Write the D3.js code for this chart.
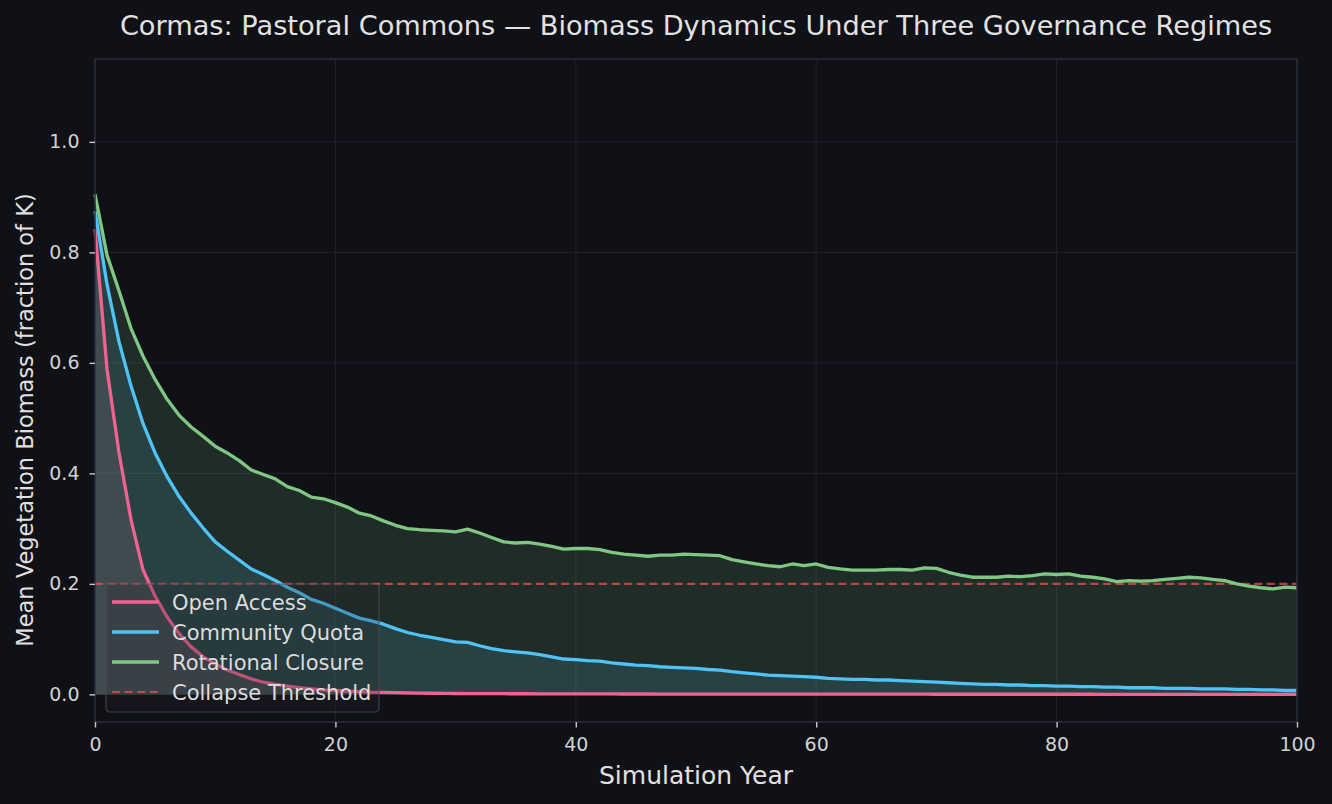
<!DOCTYPE html>
<html>
<head>
<meta charset="utf-8">
<script src="https://cdn.jsdelivr.net/npm/d3@7.9.0/dist/d3.min.js"></script>
<style>
  html, body { margin: 0; padding: 0; background: #101117; }
  svg { display: block; font-family: "DejaVu Sans", sans-serif; }
</style>
</head>
<body>
<svg id="chart" width="1332" height="804"></svg>
<script>
// years 0..100
const years = d3.range(0, 101);

const openAccess = [
  0.842, 0.588, 0.437, 0.316, 0.225, 0.178, 0.140, 0.110, 0.086, 0.068,
  0.055, 0.044, 0.036, 0.028, 0.022, 0.018, 0.015, 0.012, 0.010, 0.008,
  0.007, 0.006, 0.005, 0.004, 0.0035, 0.003, 0.0027, 0.0024, 0.002, 0.0018,
  0.0016, 0.0015, 0.0014, 0.0013, 0.0012, 0.0011, 0.0011, 0.001, 0.001, 0.0009,
  0.0009, 0.0008, 0.0008, 0.0008, 0.0007, 0.0007, 0.0007, 0.0006, 0.0006, 0.0006,
  0.0006, 0.0005, 0.0005, 0.0005, 0.0005, 0.0005, 0.0004, 0.0004, 0.0004, 0.0004,
  0.0004, 0.0004, 0.0003, 0.0003, 0.0003, 0.0003, 0.0003, 0.0003, 0.0003, 0.0003,
  0.0002, 0.0002, 0.0002, 0.0002, 0.0002, 0.0002, 0.0002, 0.0002, 0.0002, 0.0002,
  0.0002, 0.0002, 0.0002, 0.0002, 0.0001, 0.0001, 0.0001, 0.0001, 0.0001, 0.0001,
  0.0001, 0.0001, 0.0001, 0.0001, 0.0001, 0.0001, 0.0001, 0.0001, 0.0001, 0.0001,
  0.0001
];

const communityQuota = [
  0.875, 0.742, 0.638, 0.558, 0.490, 0.437, 0.394, 0.358, 0.328, 0.301,
  0.276, 0.259, 0.243, 0.227, 0.217, 0.206, 0.194, 0.184, 0.172, 0.165,
  0.156, 0.147, 0.138, 0.133, 0.127, 0.119, 0.112, 0.107, 0.103, 0.099,
  0.095, 0.094, 0.088, 0.083, 0.079, 0.077, 0.075, 0.072, 0.068, 0.064,
  0.063, 0.061, 0.060, 0.057, 0.055, 0.053, 0.052, 0.050, 0.049, 0.048,
  0.047, 0.045, 0.044, 0.041, 0.039, 0.037, 0.035, 0.034, 0.033, 0.032,
  0.031, 0.029, 0.028, 0.027, 0.027, 0.026, 0.026, 0.025, 0.024, 0.023,
  0.022, 0.021, 0.020, 0.019, 0.018, 0.018, 0.017, 0.017, 0.016, 0.016,
  0.015, 0.015, 0.014, 0.014, 0.013, 0.013, 0.012, 0.012, 0.012, 0.011,
  0.011, 0.011, 0.010, 0.010, 0.010, 0.009, 0.009, 0.008, 0.008, 0.007,
  0.007
];

const rotationalClosure = [
  0.905, 0.795, 0.730, 0.662, 0.612, 0.570, 0.534, 0.505, 0.484, 0.467,
  0.449, 0.437, 0.423, 0.406, 0.398, 0.390, 0.376, 0.369, 0.357, 0.354,
  0.347, 0.339, 0.328, 0.323, 0.314, 0.306, 0.300, 0.298, 0.297, 0.296,
  0.294, 0.299, 0.292, 0.284, 0.276, 0.274, 0.275, 0.272, 0.268, 0.263,
  0.264, 0.264, 0.262, 0.257, 0.254, 0.252, 0.250, 0.252, 0.252, 0.254,
  0.253, 0.252, 0.251, 0.244, 0.240, 0.236, 0.233, 0.231, 0.236, 0.233,
  0.236, 0.230, 0.227, 0.225, 0.225, 0.225, 0.226, 0.226, 0.225, 0.229,
  0.228, 0.221, 0.216, 0.212, 0.212, 0.212, 0.214, 0.213, 0.215, 0.218,
  0.217, 0.218, 0.214, 0.212, 0.209, 0.204, 0.206, 0.205, 0.206, 0.208,
  0.210, 0.212, 0.211, 0.208, 0.206, 0.200, 0.196, 0.193, 0.191, 0.194,
  0.193
];

const collapseThreshold = 0.2;
const xTicks = [0, 20, 40, 60, 80, 100];
const yTicks = [0.0, 0.2, 0.4, 0.6, 0.8, 1.0];

const series = [
  { name: 'Open Access', values: openAccess, color: '#f06292' },
  { name: 'Community Quota', values: communityQuota, color: '#4fc3f7' },
  { name: 'Rotational Closure', values: rotationalClosure, color: '#81c784' }
];

const svg = d3.select('#chart');
const width = +svg.attr('width');
const height = +svg.attr('height');
const margin = { top: 59, right: 35, bottom: 82, left: 95 };
const innerWidth = width - margin.left - margin.right;
const innerHeight = height - margin.top - margin.bottom;

svg.append('rect').attr('width', width).attr('height', height).attr('fill', '#101117');

const chart = svg.append('g').attr('transform', `translate(${margin.left},${margin.top})`);

const x = d3.scaleLinear().domain([0, 100]).range([0, innerWidth]);
const y = d3.scaleLinear().domain([-0.05, 1.15]).range([innerHeight, 0]);

// grid
chart.append('g')
  .selectAll('line.vgrid')
  .data(xTicks)
  .join('line')
  .attr('x1', d => x(d)).attr('x2', d => x(d))
  .attr('y1', 0).attr('y2', innerHeight)
  .attr('stroke', '#1d1e26').attr('stroke-width', 1.2);

chart.append('g')
  .selectAll('line.hgrid')
  .data(yTicks)
  .join('line')
  .attr('x1', 0).attr('x2', innerWidth)
  .attr('y1', d => y(d)).attr('y2', d => y(d))
  .attr('stroke', '#1d1e26').attr('stroke-width', 1.2);

// fills then lines
const area = d3.area()
  .x((d, i) => x(years[i]))
  .y0(y(0))
  .y1(d => y(d));

const line = d3.line()
  .x((d, i) => x(years[i]))
  .y(d => y(d));

chart.selectAll('path.fill')
  .data(series)
  .join('path')
  .attr('class', 'fill')
  .attr('d', d => area(d.values))
  .attr('fill', d => d.color)
  .attr('fill-opacity', 0.15);

chart.append('line')
  .attr('x1', 0).attr('x2', innerWidth)
  .attr('y1', y(collapseThreshold)).attr('y2', y(collapseThreshold))
  .attr('stroke', '#ef5350').attr('stroke-opacity', 0.7)
  .attr('stroke-width', 2.2)
  .attr('stroke-dasharray', '8,4.6');

chart.selectAll('path.line')
  .data(series)
  .join('path')
  .attr('class', 'line')
  .attr('d', d => line(d.values))
  .attr('fill', 'none')
  .attr('stroke', d => d.color)
  .attr('stroke-width', 3.3)
  .attr('stroke-linejoin', 'round');

// spines
chart.append('rect')
  .attr('x', 0).attr('y', 0)
  .attr('width', innerWidth).attr('height', innerHeight)
  .attr('fill', 'none')
  .attr('stroke', '#2b2c3a').attr('stroke-width', 1.5);

// axes
const xAxis = chart.append('g')
  .attr('transform', `translate(0,${innerHeight})`)
  .call(d3.axisBottom(x).tickValues(xTicks).tickFormat(d3.format('d')).tickSize(5.5).tickPadding(10.5));

const yAxis = chart.append('g')
  .call(d3.axisLeft(y).tickValues(yTicks).tickFormat(d3.format('.1f')).tickSize(5.5).tickPadding(10));

[xAxis, yAxis].forEach(g => {
  g.select('.domain').remove();
  g.selectAll('.tick line').attr('stroke', '#c8c8c8').attr('stroke-width', 1.4);
  g.selectAll('.tick text')
    .attr('fill', '#d2d2d2')
    .attr('font-size', '19px')
    .attr('font-family', '"DejaVu Sans", sans-serif');
});

// labels
svg.append('text')
  .attr('x', margin.left + innerWidth / 2)
  .attr('y', 35)
  .attr('text-anchor', 'middle')
  .attr('font-size', '27.2px')
  .attr('fill', '#e2e2e2')
  .text('Cormas: Pastoral Commons — Biomass Dynamics Under Three Governance Regimes');

svg.append('text')
  .attr('x', margin.left + innerWidth / 2)
  .attr('y', 784)
  .attr('text-anchor', 'middle')
  .attr('font-size', '25px')
  .attr('fill', '#e0e0e0')
  .text('Simulation Year');

svg.append('text')
  .attr('transform', 'rotate(-90)')
  .attr('x', -420)
  .attr('y', 33)
  .attr('text-anchor', 'middle')
  .attr('font-size', '22.5px')
  .attr('fill', '#e0e0e0')
  .text('Mean Vegetation Biomass (fraction of K)');

// legend
const legendItems = [
  ...series.map(s => ({ name: s.name, color: s.color, dash: null, opacity: 1, w: 3.3 })),
  { name: 'Collapse Threshold', color: '#ef5350', dash: '8,4.6', opacity: 0.7, w: 2.2 }
];

const legend = svg.append('g').attr('transform', 'translate(106,584)');
legend.append('rect')
  .attr('width', 273).attr('height', 128)
  .attr('rx', 4)
  .attr('fill', '#22242c').attr('fill-opacity', 0.25)
  .attr('stroke', '#4a4c58').attr('stroke-opacity', 0.8).attr('stroke-width', 1.2);

const row = legend.selectAll('g.row')
  .data(legendItems)
  .join('g')
  .attr('transform', (d, i) => `translate(0,${18 + i * 30})`);

row.append('line')
  .attr('x1', 6).attr('x2', 53)
  .attr('stroke', d => d.color)
  .attr('stroke-opacity', d => d.opacity)
  .attr('stroke-width', d => d.w)
  .attr('stroke-dasharray', d => d.dash);

row.append('text')
  .attr('x', 66)
  .attr('y', 7.5)
  .attr('font-size', '21px')
  .attr('fill', '#dcdcdc')
  .text(d => d.name);
</script>
</body>
</html>
